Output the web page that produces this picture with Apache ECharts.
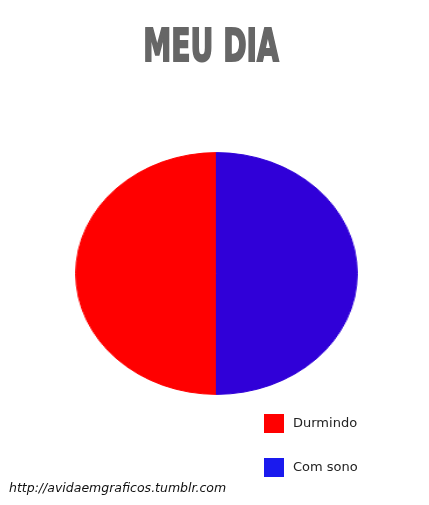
<!DOCTYPE html>
<html>
<head>
<meta charset="utf-8">
<script src="https://cdn.jsdelivr.net/npm/echarts@6/dist/echarts.min.js"></script>
<style>
html,body{margin:0;padding:0;background:#fff;}
#wrap{position:relative;width:429px;height:505px;overflow:hidden;}
#pie{position:absolute;left:95px;top:152px;width:243px;height:243px;transform:scaleX(1.1646);transform-origin:50% 50%;}
#main{position:absolute;left:0;top:0;width:429px;height:505px;}
</style>
</head>
<body>
<div id="wrap">
<div id="pie"></div>
<div id="main"></div>
</div>
<script>
const titleText = 'MEU DIA';
const categories = ['Durmindo', 'Com sono'];
const values = [50, 50];
const sliceColors = ['#ff0000', '#3000d8'];
const legendColors = ['#ff0000', '#1a1aee'];
const sourceText = 'http://avidaemgraficos.tumblr.com';

const pieChart = echarts.init(document.getElementById('pie'), null, {renderer: 'canvas'});
pieChart.setOption({
  animation: false,
  series: [{
    type: 'pie',
    center: ['50%', '50%'],
    radius: ['0%', '99.5%'],
    startAngle: 90,
    clockwise: false,
    label: {show: false},
    labelLine: {show: false},
    silent: true,
    data: categories.map((c, i) => ({name: c, value: values[i], itemStyle: {color: sliceColors[i], borderColor: sliceColors[i], borderWidth: 1}}))
  }]
});

const chart = echarts.init(document.getElementById('main'), null, {renderer: 'canvas'});
chart.setOption({
  animation: false,
  backgroundColor: 'transparent',
  legend: {
    orient: 'vertical',
    left: 264,
    top: 414,
    padding: 0,
    itemWidth: 20,
    itemHeight: 19,
    itemGap: 25,
    icon: 'rect',
    selectedMode: false,
    data: categories,
    textStyle: {fontFamily: 'DejaVu Sans', fontSize: 13, color: '#222', padding: [0, 0, 0, 4]}
  },
  graphic: [
    {
      type: 'text',
      x: 211,
      y: 49.5,
      scaleX: 0.64,
      style: {
        text: titleText,
        x: 0, y: 0,
        textAlign: 'center',
        textVerticalAlign: 'middle',
        font: 'bold 44px "DejaVu Sans"',
        fill: '#666666',
        stroke: '#666666',
        lineWidth: 2
      }
    },
    {
      type: 'text',
      x: 9,
      y: 488.5,
      style: {
        text: sourceText,
        textAlign: 'left',
        textVerticalAlign: 'middle',
        font: 'italic 12.5px "DejaVu Sans"',
        fill: '#111111'
      }
    }
  ],
  series: [{
    type: 'pie',
    center: [-1000, -1000],
    radius: 5,
    silent: true,
    label: {show: false},
    labelLine: {show: false},
    data: categories.map((c, i) => ({name: c, value: values[i], itemStyle: {color: legendColors[i]}}))
  }]
});
</script>
</body>
</html>
